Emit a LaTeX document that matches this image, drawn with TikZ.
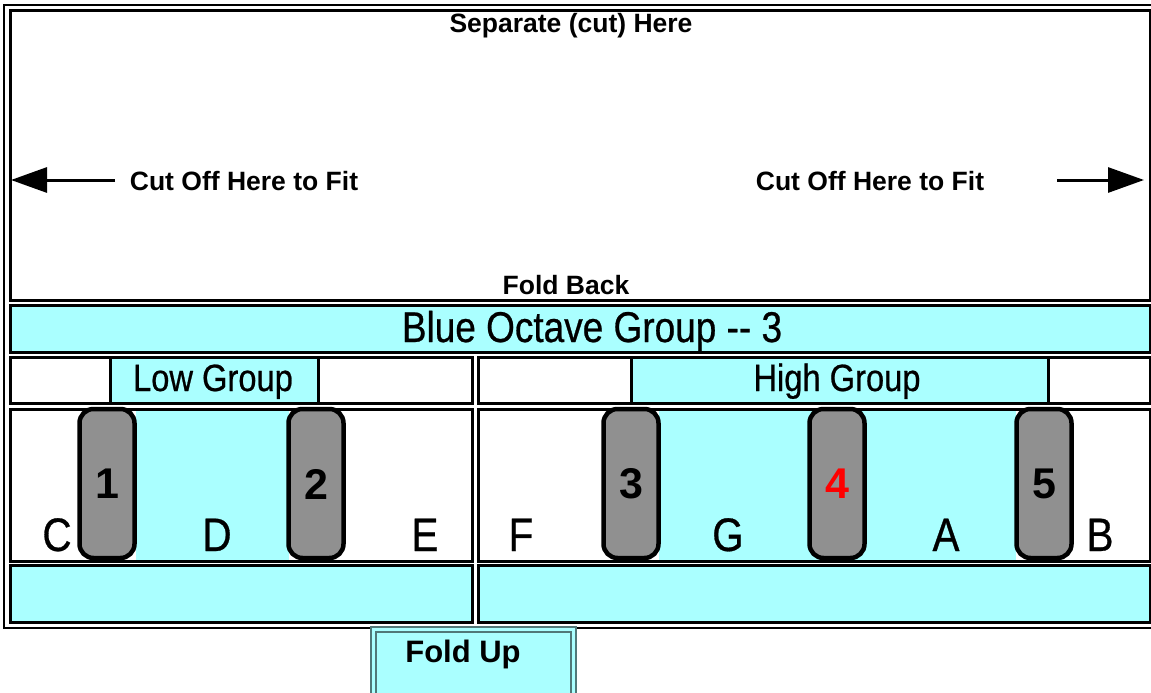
\documentclass[tikz,border=0pt]{standalone}
\usepackage{fontspec}
\setmainfont{Liberation Sans}
\newfontfamily\narrowfont[FakeStretch=0.86,FakeBold=0.6]{Liberation Sans}
\usetikzlibrary{arrows.meta}

\definecolor{keycyan}{RGB}{170,255,255}
\definecolor{keygray}{RGB}{144,144,144}
\definecolor{foldedge}{RGB}{80,120,120}

\tikzset{
  cell/.style={draw,line width=3pt},
  blackkey/.style={draw,line width=4.5pt,fill=keygray,rounded corners=14pt},
  keynum/.style={font=\fontsize{43}{43}\bfseries},
  note/.style={font=\narrowfont\fontsize{47}{47}\selectfont,anchor=base},
  hint/.style={font=\fontsize{26.5}{26.5}\bfseries,anchor=base},
  cutarrow/.style={line width=3pt,-{Triangle[length=36pt,width=25pt]}}
}

\begin{document}
\begin{tikzpicture}[x=1pt,y=-1pt]
   \useasboundingbox (0,0) rectangle (1151,693);
   % outer frame
   \draw[line width=1.8pt] (4,5) rectangle (1170,628);
   \begin{scope}
    % cut area
    \draw[cell,fill=white] (10,11) rectangle (1150,300.5);
    \node[hint] (sep) at (571,33) {Separate (cut) Here};
    \node[hint] (cutl) at (244,190) {Cut Off Here to Fit};
    \node[hint] (cutr) at (870,190) {Cut Off Here to Fit};
    \node[hint] (fold) at (566,294) {Fold Back};
    \coordinate (la) at (115,180);
    \coordinate (lt) at (11,180);
    \coordinate (ra) at (1057,180);
    \coordinate (rt) at (1144,180);
    \draw[cutarrow] (la) -- (lt);
    \draw[cutarrow] (ra) -- (rt);
   \end{scope}
   \begin{scope}
    % title bar and groups
    \draw[cell,fill=keycyan] (10,305.5) rectangle (1150,352);
    \node[font=\narrowfont\fontsize{43}{43}\selectfont,anchor=base] (title) at (592,342) {Blue Octave Group -- 3};
    \draw[cell] (10,357) rectangle (472.5,403.5);
    \draw[cell] (478,357) rectangle (1150,403.5);
    \draw[cell,fill=keycyan] (110,357) rectangle (318,403.5);
    \draw[cell,fill=keycyan] (631,357) rectangle (1048,403.5);
    \node[font=\narrowfont\fontsize{38}{38}\selectfont,anchor=base] (low) at (213,391) {Low Group};
    \node[font=\narrowfont\fontsize{38}{38}\selectfont,anchor=base] (high) at (837,391) {High Group};
   \end{scope}
   \begin{scope}
    % keyboard
    \draw[cell] (10,409) rectangle (472.5,561);
    \draw[cell] (478,409) rectangle (1150,561);
    \fill[keycyan] (136,410.5) rectangle (289,559.5);
    \fill[keycyan] (659,410.5) rectangle (1016,559.5);
    \foreach \n/\x in {1/107,2/316,3/631,4/837,5/1044}
      \draw[blackkey] ({\x-27.5},409) rectangle ({\x+27.5},558);
    \node[keynum] (k1) at (107,484) {1};
    \node[keynum] (k2) at (316,484) {2};
    \node[keynum] (k3) at (631,484) {3};
    \node[keynum,text=red] (k4) at (837,484) {4};
    \node[keynum] (k5) at (1044,484) {5};
    \node[note] (nc) at (57,551) {C};
    \node[note] (nd) at (217,551) {D};
    \node[note] (ne) at (425,551) {E};
    \node[note] (nf) at (521,551) {F};
    \node[note] (ng) at (728,551) {G};
    \node[note] (na) at (946,551) {A};
    \node[note] (nb) at (1100,551) {B};
    \draw[cell,fill=keycyan] (10,565.5) rectangle (472.5,622);
    \draw[cell,fill=keycyan] (478,565.5) rectangle (1150,622);
   \end{scope}
   % fold tab
   \draw[foldedge,line width=1.5pt,fill=keycyan] (371,627) rectangle (576,700);
   \draw[foldedge,line width=1.5pt] (376,632) rectangle (571,700);
   \node[font=\fontsize{31}{31}\bfseries] (foldup) at (463,654) {Fold Up};
\end{tikzpicture}
\end{document}
